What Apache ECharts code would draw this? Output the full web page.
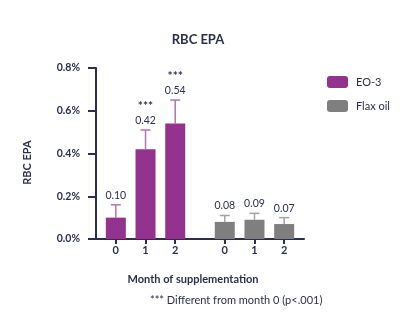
<!DOCTYPE html>
<html>
<head>
<meta charset="utf-8">
<script src="https://cdn.jsdelivr.net/npm/echarts@6/dist/echarts.min.js"></script>
<style>html,body{margin:0;padding:0;background:#fff;}#c{width:417px;height:334px;}</style>
</head>
<body>
<div id="c"></div>
<script>
// ---- data ----
var months = ['0', '1', '2'];
var eo3Values = [0.10, 0.42, 0.54];
var eo3Errors = [0.06, 0.09, 0.11];
var eo3Sig = ['', '***', '***'];
var flaxValues = [0.08, 0.09, 0.07];
var flaxErrors = [0.03, 0.03, 0.03];
var flaxSig = ['', '', ''];
var yTicks = [0, 0.2, 0.4, 0.6, 0.8];

// ---- layout (slot positions on a fine category axis) ----
var slotCount = 22;
var eo3Slots = [2, 5, 8];
var flaxSlots = [13, 16, 19];

var slotIds = [], slotLabels = [];
for (var i = 0; i < slotCount; i++) { slotIds.push('s' + i); slotLabels.push(''); }
eo3Slots.forEach(function (s, k) { slotLabels[s] = months[k]; });
flaxSlots.forEach(function (s, k) { slotLabels[s] = months[k]; });

function barData(slots, vals) {
  var d = [];
  for (var i = 0; i < slotCount; i++) d.push(null);
  slots.forEach(function (s, k) { d[s] = vals[k]; });
  return d;
}
function errData(slots, vals, errs) {
  return slots.map(function (s, k) { return [s, vals[k], vals[k] + errs[k]]; });
}

var navy = '#2b2f4e';
var font = 'Lato';

function errRender(color, vals, sigs) {
  return function (params, api) {
    var x = api.value(0);
    var base = api.coord([x, api.value(1)]);
    var top = api.coord([x, api.value(2)]);
    var cap = 5;
    var k = params.dataIndex;
    var children = [
      { type: 'line', shape: { x1: base[0], y1: base[1], x2: top[0], y2: top[1] }, style: { stroke: color, lineWidth: 1.5 } },
      { type: 'line', shape: { x1: top[0] - cap, y1: top[1], x2: top[0] + cap, y2: top[1] }, style: { stroke: color, lineWidth: 1.5 } },
      { type: 'text', style: { text: vals[k].toFixed(2), x: top[0], y: top[1] - 4, textAlign: 'center', textVerticalAlign: 'bottom', fill: navy, fontSize: 10.5, fontFamily: font } }
    ];
    if (sigs[k]) {
      children.push({ type: 'text', style: { text: sigs[k], x: top[0], y: top[1] - 18, textAlign: 'center', textVerticalAlign: 'bottom', fill: navy, fontSize: 12, fontWeight: 'bold', fontFamily: font } });
    }
    return { type: 'group', children: children };
  };
}

var chart = echarts.init(document.getElementById('c'), null, { renderer: 'canvas' });
chart.setOption({
  animation: false,
  backgroundColor: '#fff',
  title: {
    text: 'RBC EPA', left: 193, top: 28, textAlign: 'center',
    textStyle: { fontFamily: font, fontWeight: 'bold', fontSize: 13, color: navy }
  },
  legend: {
    left: 322, top: 71, orient: 'vertical', itemWidth: 21, itemHeight: 12, itemGap: 12,
    data: ['EO-3', 'Flax oil'],
    textStyle: { fontFamily: font, fontSize: 11, color: navy, padding: [0, 0, 0, 3] }
  },
  grid: { left: 96, right: 113, top: 68, bottom: 95 },
  xAxis: {
    type: 'category', data: slotIds, boundaryGap: false,
    name: 'Month of supplementation', nameLocation: 'middle', nameGap: 35,
    nameTextStyle: { fontFamily: font, fontWeight: 'bold', fontSize: 11, color: navy, padding: [0, 14, 0, 0] },
    axisLine: { lineStyle: { color: navy, width: 2 } },
    axisTick: { length: 5, lineStyle: { color: navy, width: 2 }, interval: function (idx) { return slotLabels[idx] !== ''; } },
    axisLabel: { interval: 0, margin: 6, fontFamily: font, fontWeight: 'bold', fontSize: 11, color: navy, formatter: function (v, idx) { return slotLabels[idx]; } },
    splitLine: { show: false }
  },
  yAxis: {
    type: 'value', min: 0, max: 0.8, interval: 0.2,
    name: 'RBC EPA', nameLocation: 'middle', nameGap: 63,
    nameTextStyle: { fontFamily: font, fontWeight: 'bold', fontSize: 11, color: navy, padding: [0, 0, 0, -18] },
    axisLine: { show: true, lineStyle: { color: navy, width: 2 } },
    axisTick: { show: true, length: 8, lineStyle: { color: navy, width: 2 } },
    axisLabel: { margin: 16, fontFamily: font, fontWeight: 'bold', fontSize: 10.5, color: navy, formatter: function (v) { return v.toFixed(1) + '%'; } },
    splitLine: { show: false }
  },
  graphic: [{
    type: 'text', left: 150, top: 295,
    style: { text: '*** Different from month 0 (p<.001)', fontFamily: font, fontSize: 11, fill: navy }
  }],
  series: [
    { name: 'EO-3', type: 'bar', barWidth: 20, barGap: '-100%', data: barData(eo3Slots, eo3Values), itemStyle: { color: '#93338f' } },
    { name: 'Flax oil', type: 'bar', barWidth: 20, barGap: '-100%', data: barData(flaxSlots, flaxValues), itemStyle: { color: '#7f7f7f' } },
    { name: 'eo3err', type: 'custom', renderItem: errRender('#b673b3', eo3Values, eo3Sig), data: errData(eo3Slots, eo3Values, eo3Errors), z: 3 },
    { name: 'flaxerr', type: 'custom', renderItem: errRender('#a3a3a3', flaxValues, flaxSig), data: errData(flaxSlots, flaxValues, flaxErrors), z: 3 }
  ]
});
</script>
</body>
</html>
